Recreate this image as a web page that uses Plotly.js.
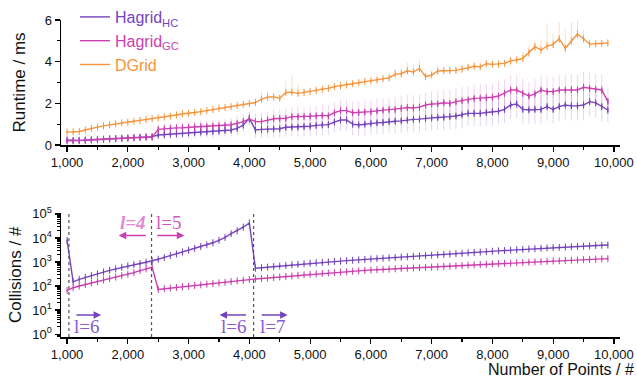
<!DOCTYPE html>
<html>
<head>
<meta charset="utf-8">
<script src="https://cdn.plot.ly/plotly-3.0.1.min.js"></script>
<style>html,body{margin:0;padding:0;background:#fff;}#chart{width:637px;height:379px;}</style>
</head>
<body>
<div id="chart"></div>
<script>
// Number of points (x values, both panels)
const points = [
 1000,1100,1200,1300,1400,1500,1600,1700,1800,1900,
 2000,2100,2200,2300,2400,2500,2600,2700,2800,2900,
 3000,3100,3200,3300,3400,3500,3600,3700,3800,3900,
 4000,4100,4200,4300,4400,4500,4600,4700,4800,4900,
 5000,5100,5200,5300,5400,5500,5600,5700,5800,5900,
 6000,6100,6200,6300,6400,6500,6600,6700,6800,6900,
 7000,7100,7200,7300,7400,7500,7600,7700,7800,7900,
 8000,8100,8200,8300,8400,8500,8600,8700,8800,8900,
 9000,9100,9200,9300,9400,9500,9600,9700,9800,9900];

// Runtime (ms), mean per point count
const runtimeHC = [
 0.24,0.22,0.22,0.24,0.26,0.27,0.28,0.30,0.31,0.33,
 0.34,0.36,0.37,0.39,0.40,0.48,0.50,0.52,0.54,0.56,
 0.58,0.60,0.62,0.63,0.65,0.67,0.70,0.72,0.80,0.96,
 1.28,0.72,0.75,0.76,0.77,0.78,0.85,0.86,0.86,0.88,
 0.90,0.94,0.96,0.98,1.10,1.20,1.20,1.00,0.96,1.00,
 1.04,1.06,1.08,1.12,1.14,1.16,1.20,1.23,1.24,1.28,
 1.30,1.32,1.33,1.36,1.39,1.45,1.52,1.52,1.52,1.56,
 1.60,1.62,1.71,1.92,1.97,1.71,1.68,1.71,1.71,1.84,
 1.71,1.84,1.92,1.88,1.88,1.92,2.08,2.02,1.84,1.68];
const runtimeGC = [
 0.20,0.20,0.21,0.22,0.24,0.25,0.26,0.28,0.30,0.31,
 0.33,0.34,0.36,0.37,0.38,0.75,0.78,0.80,0.82,0.83,
 0.85,0.86,0.88,0.89,0.91,0.92,0.94,0.97,1.04,1.12,
 1.25,1.12,1.12,1.20,1.26,1.27,1.28,1.36,1.36,1.37,
 1.38,1.40,1.42,1.40,1.55,1.65,1.65,1.55,1.56,1.58,
 1.60,1.64,1.67,1.70,1.70,1.76,1.80,1.78,1.82,1.92,
 1.97,1.98,2.03,2.00,2.08,2.13,2.16,2.24,2.25,2.26,
 2.29,2.35,2.48,2.64,2.64,2.48,2.35,2.45,2.64,2.56,
 2.56,2.64,2.64,2.66,2.64,2.77,2.72,2.67,2.64,2.08];
const runtimeDG = [
 0.62,0.63,0.65,0.72,0.80,0.86,0.92,0.97,1.02,1.06,
 1.10,1.14,1.18,1.22,1.26,1.30,1.34,1.38,1.44,1.50,
 1.52,1.56,1.60,1.65,1.70,1.76,1.80,1.84,1.90,1.95,
 1.99,2.04,2.20,2.30,2.31,2.24,2.52,2.54,2.48,2.52,
 2.58,2.62,2.68,2.72,2.80,2.84,2.88,2.94,2.99,3.04,
 3.08,3.12,3.18,3.22,3.40,3.42,3.56,3.50,3.68,3.28,
 3.36,3.55,3.56,3.57,3.58,3.64,3.72,3.78,3.75,3.90,
 3.87,3.88,3.92,4.04,4.08,4.16,4.43,4.72,4.56,4.75,
 4.83,5.10,4.64,5.00,5.33,5.10,4.84,4.86,4.87,4.90];

// Spread of the individual runs around the mean (ms)
const spreadHC = [
 0.06,0.06,0.06,0.07,0.07,0.07,0.08,0.08,0.08,0.08,
 0.08,0.09,0.09,0.09,0.10,0.20,0.22,0.22,0.24,0.24,
 0.25,0.25,0.26,0.26,0.28,0.28,0.30,0.30,0.32,0.35,
 0.30,0.38,0.40,0.40,0.42,0.42,0.45,0.45,0.46,0.46,
 0.48,0.48,0.50,0.50,0.50,0.52,0.52,0.52,0.54,0.54,
 0.55,0.55,0.56,0.56,0.58,0.58,0.58,0.60,0.60,0.60,
 0.60,0.60,0.62,0.62,0.62,0.62,0.62,0.64,0.64,0.64,
 0.64,0.64,0.66,0.66,0.66,0.66,0.66,0.68,0.68,0.68,
 0.68,0.68,0.68,0.70,0.70,0.70,0.70,0.70,0.70,0.60];
const spreadGC = [
 0.06,0.06,0.06,0.07,0.07,0.07,0.08,0.08,0.08,0.08,
 0.08,0.09,0.09,0.09,0.10,0.24,0.25,0.26,0.26,0.27,
 0.28,0.28,0.30,0.30,0.30,0.32,0.32,0.33,0.34,0.36,
 0.32,0.40,0.42,0.42,0.44,0.44,0.46,0.46,0.48,0.48,
 0.50,0.50,0.52,0.52,0.52,0.54,0.54,0.54,0.56,0.56,
 0.56,0.58,0.58,0.58,0.60,0.60,0.60,0.62,0.62,0.62,
 0.62,0.64,0.64,0.64,0.64,0.66,0.66,0.66,0.66,0.68,
 0.68,0.68,0.68,0.70,0.70,0.70,0.70,0.72,0.72,0.72,
 0.72,0.72,0.74,0.74,0.74,0.74,0.74,0.74,0.74,0.62];
const spreadDGup = [
 0.03,0.03,0.03,0.03,0.03,0.03,0.03,0.03,0.03,0.03,
 0.03,0.03,0.03,0.03,0.03,0.03,0.03,0.03,0.03,0.03,
 0.04,0.04,0.04,0.04,0.04,0.04,0.04,0.04,0.04,0.04,
 0.05,0.10,0.35,0.30,0.15,0.15,0.55,0.80,0.45,0.20,
 0.10,0.08,0.08,0.08,0.08,0.08,0.08,0.08,0.08,0.10,
 0.10,0.10,0.10,0.15,0.25,0.30,0.40,0.40,0.40,0.15,
 0.15,0.15,0.15,0.15,0.15,0.15,0.15,0.15,0.15,0.15,
 0.15,0.15,0.15,0.20,0.20,0.30,0.35,0.30,0.50,1.10,
 0.50,0.80,0.90,0.90,0.70,0.40,0.20,0.08,0.06,0.06];
const spreadDGdown = [
 0.03,0.03,0.03,0.03,0.03,0.03,0.03,0.03,0.03,0.03,
 0.03,0.03,0.03,0.03,0.03,0.03,0.03,0.03,0.03,0.03,
 0.04,0.04,0.04,0.04,0.04,0.04,0.04,0.04,0.04,0.04,
 0.05,0.05,0.08,0.08,0.08,0.08,0.10,0.10,0.10,0.08,
 0.06,0.06,0.06,0.06,0.06,0.06,0.06,0.06,0.06,0.06,
 0.06,0.06,0.06,0.08,0.10,0.10,0.12,0.12,0.12,0.10,
 0.10,0.10,0.10,0.10,0.10,0.10,0.10,0.10,0.10,0.10,
 0.10,0.10,0.10,0.12,0.12,0.15,0.20,0.20,0.20,0.20,
 0.20,0.20,0.20,0.20,0.20,0.20,0.15,0.08,0.06,0.06];

// Collisions (#)
const collisionsHC = [
 8000,150,190,230,270,320,380,450,520,600,
 690,780,870,980,1100,1300,1550,1850,2150,2600,
 3100,3700,4400,5200,6300,8000,10500,15000,20000,28000,
 42000,550,580,612,646,681,719,759,800,845,
 891,928,966,1006,1047,1090,1135,1182,1230,1281,
 1334,1383,1433,1486,1540,1596,1655,1715,1778,1843,
 1905,1980,2060,2140,2220,2310,2400,2490,2590,2690,
 2800,2900,3000,3110,3220,3340,3460,3580,3710,3840,
 3980,4090,4210,4320,4440,4570,4700,4830,4960,5100];
const collisionsGC = [
 65,85,100,115,135,155,180,205,235,270,
 310,360,440,520,600,72,77,82,87,93,
 99,105,112,119,127,135,144,153,163,173,
 185,195,205,215,225,237,250,263,277,292,
 307,320,333,347,362,377,393,410,427,446,
 465,478,492,506,520,535,550,566,582,598,
 615,634,653,673,693,714,736,758,781,805,
 830,854,878,903,929,956,983,1011,1040,1070,
 1100,1128,1157,1186,1217,1248,1279,1312,1345,1380];

// Level switches (dotted lines) and labels
const levelSwitches = [1030, 2390, 4070];
const seriesNames = ['Hagrid<sub>HC</sub>', 'Hagrid<sub>GC</sub>', 'DGrid'];
const xTickVals = [1000,2000,3000,4000,5000,6000,7000,8000,9000,10000];
const logTickVals = [1,10,100,1000,10000,100000];
const logTickText = ['10<sup>0</sup>','10<sup>1</sup>','10<sup>2</sup>','10<sup>3</sup>','10<sup>4</sup>','10<sup>5</sup>'];

const C_HC = '#7443bd', C_GC = '#cc3fb0', C_DG = '#f7943a';
const FAINT_HC = 'rgba(116,67,189,0.22)', FAINT_GC = 'rgba(204,63,176,0.22)', FAINT_DG = 'rgba(247,148,58,0.3)';

function rangeTrace(y, up, down, color, xa, ya) {
  return {x: points, y: y, type: 'scatter', mode: 'markers', xaxis: xa, yaxis: ya,
    marker: {size: 1, opacity: 0}, showlegend: false, hoverinfo: 'skip',
    error_y: {type: 'data', symmetric: false, array: up, arrayminus: down,
      color: color, thickness: 1, width: 0}};
}
function meanTrace(y, color, xa, ya, err) {
  return {x: points, y: y, type: 'scatter', mode: 'lines+markers', xaxis: xa, yaxis: ya,
    showlegend: false,
    line: {color: color, width: 1.4},
    marker: {symbol: 'line-ns-open', size: 5, color: color, line: {color: color, width: 1}},
    error_y: err};
}
function legendTrace(name, color) {
  return {x: [null], y: [null], type: 'scatter', mode: 'lines', xaxis: 'x', yaxis: 'y',
    name: '<span style="color:' + color + '">' + name + '</span>', showlegend: true,
    line: {color: color, width: 1.4}};
}

const traces = [
  rangeTrace(runtimeHC, spreadHC, spreadHC, FAINT_HC, 'x', 'y'),
  rangeTrace(runtimeGC, spreadGC, spreadGC, FAINT_GC, 'x', 'y'),
  rangeTrace(runtimeDG, spreadDGup, spreadDGdown, FAINT_DG, 'x', 'y'),
  meanTrace(runtimeHC, C_HC, 'x', 'y', {type:'constant', value:0.1, color:C_HC, thickness:1.2, width:0}),
  meanTrace(runtimeGC, C_GC, 'x', 'y', {type:'constant', value:0.1, color:C_GC, thickness:1.2, width:0}),
  meanTrace(runtimeDG, C_DG, 'x', 'y', {type:'constant', value:0.04, color:C_DG, thickness:1.2, width:0}),
  meanTrace(collisionsGC, C_GC, 'x2', 'y2', {type:'percent', value:12, color:C_GC, thickness:1, width:0}),
  meanTrace(collisionsHC, C_HC, 'x2', 'y2', {type:'percent', value:12, color:C_HC, thickness:1, width:0}),
  legendTrace(seriesNames[0], C_HC),
  legendTrace(seriesNames[1], C_GC),
  legendTrace(seriesNames[2], C_DG)
];

const FONT = 'Liberation Sans, Arial, sans-serif';
const SERIF = 'Liberation Serif, DejaVu Serif, serif';
const axisX = {range: [900, 10100], tickmode: 'array', tickvals: xTickVals, tickformat: ',d',
  ticks: 'outside', ticklen: 5, tickwidth: 1.2, tickcolor: '#000', showline: true, linecolor: '#000', linewidth: 1.5,
  showgrid: false, zeroline: false, tickfont: {family: FONT, size: 13, color: '#111'},
  minor: {dtick: 500, tick0: 500, ticks: 'outside', ticklen: 3, tickcolor: '#000', showgrid: false}};

const shapes = levelSwitches.map(v => ({type: 'line', xref: 'x2', yref: 'y2 domain', x0: v, x1: v, y0: 0, y1: 1,
  line: {color: '#555', width: 1.2, dash: 'dot'}}));

function arrow(x0, x1, yv, color) {
  return {xref: 'x2', yref: 'y2', axref: 'x2', ayref: 'y2', x: x1, y: yv, ax: x0, ay: yv,
    text: '', showarrow: true, arrowhead: 2, arrowsize: 1, arrowwidth: 1.5, arrowcolor: color};
}
function label(x, yv, t, color, italic) {
  return {xref: 'x2', yref: 'y2', x: x, y: yv, text: italic ? '<i><b>' + t + '</b></i>' : t, showarrow: false,
    font: {family: SERIF, size: 19, color: color}, xanchor: 'center', yanchor: 'middle'};
}
const annotations = [
  label(2080, 4.65, 'l=4', '#e08ad0', true),
  label(2680, 4.65, 'l=5', '#d258b8', false),
  arrow(2320, 1850, 4.1, '#cc3fb0'),
  arrow(2460, 2930, 4.1, '#cc3fb0'),
  label(1320, 0.32, 'l=6', '#8a5ad0', false),
  label(3740, 0.32, 'l=6', '#8a5ad0', false),
  label(4390, 0.32, 'l=7', '#8a5ad0', false),
  arrow(1130, 1560, 0.8, '#7443bd'),
  arrow(3970, 3510, 0.8, '#7443bd'),
  arrow(4180, 4630, 0.8, '#7443bd'),
  {xref: 'paper', yref: 'paper', x: 1.028, y: -0.095, xanchor: 'right', yanchor: 'middle', showarrow: false,
    text: 'Number of Points / #', font: {family: FONT, size: 16, color: '#111'}}
];

const layout = {
  width: 637, height: 379,
  margin: {l: 61, r: 17, t: 0, b: 42},
  paper_bgcolor: '#fff', plot_bgcolor: '#fff',
  font: {family: FONT, color: '#111'},
  showlegend: true,
  legend: {x: 0.025, y: 1.0, xanchor: 'left', yanchor: 'top', bgcolor: 'rgba(0,0,0,0)',
    font: {family: FONT, size: 16}, itemwidth: 30, tracegroupgap: 0},
  xaxis: Object.assign({}, axisX, {anchor: 'y'}),
  xaxis2: Object.assign({}, axisX, {anchor: 'y2'}),
  yaxis: {domain: [0.5697, 0.9407], range: [0, 6], dtick: 2, ticks: 'outside', ticklen: 5, tickwidth: 1.2,
    tickcolor: '#000', showline: true, linecolor: '#000', linewidth: 1.5, showgrid: false, zeroline: false,
    tickfont: {family: FONT, size: 13, color: '#111'},
    minor: {dtick: 1, ticks: 'outside', ticklen: 3, tickcolor: '#000', showgrid: false},
    title: {text: 'Runtime / ms', font: {family: FONT, size: 17, color: '#111'}, standoff: 14}},
  yaxis2: {domain: [0, 0.3688], type: 'log', range: [-0.12, 5.05], tickmode: 'array',
    tickvals: logTickVals, ticktext: logTickText, ticks: 'outside', ticklen: 5, tickwidth: 1.2,
    tickcolor: '#000', showline: true, linecolor: '#000', linewidth: 1.5, showgrid: false, zeroline: false,
    tickfont: {family: FONT, size: 13, color: '#111'},
    minor: {dtick: 'D1', ticks: 'outside', ticklen: 3, tickcolor: '#000', showgrid: false},
    title: {text: 'Collisions / #', font: {family: FONT, size: 17, color: '#111'}, standoff: 6}},
  shapes: shapes,
  annotations: annotations
};

Plotly.newPlot('chart', traces, layout, {displayModeBar: false, staticPlot: true});
</script>
</body>
</html>
